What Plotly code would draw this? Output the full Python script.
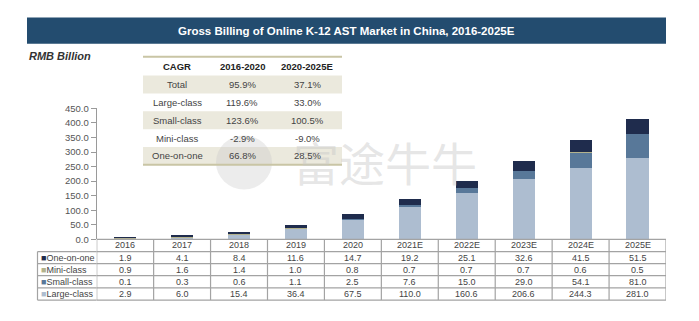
import plotly.graph_objects as go

W, H = 699, 321

years = ["2016", "2017", "2018", "2019", "2020", "2021E", "2022E", "2023E", "2024E", "2025E"]
one_on_one = [1.9, 4.1, 8.4, 11.6, 14.7, 19.2, 25.1, 32.6, 41.5, 51.5]
mini_class = [0.9, 1.6, 1.4, 1.0, 0.8, 0.7, 0.7, 0.7, 0.6, 0.5]
small_class = [0.1, 0.3, 0.6, 1.1, 2.5, 7.6, 15.0, 29.0, 54.1, 81.0]
large_class = [2.9, 6.0, 15.4, 36.4, 67.5, 110.0, 160.6, 206.6, 244.3, 281.0]

cagr_header = ["CAGR", "2016-2020", "2020-2025E"]
cagr_rows = ["Total", "Large-class", "Small-class", "Mini-class", "One-on-one"]
cagr_1620 = ["95.9%", "119.6%", "123.6%", "-2.9%", "66.8%"]
cagr_2025 = ["37.1%", "33.0%", "100.5%", "-9.0%", "28.5%"]

title = "Gross Billing of Online K-12 AST Market in China, 2016-2025E"
unit = "RMB Billion"
watermark = "富途牛牛"

C_LARGE = "#adbdd0"
C_SMALL = "#587899"
C_MINI = "#b3b28c"
C_ONE = "#1f2c4d"
FONT = "Arial, Liberation Sans, sans-serif"


def px(x):
    return x / W


def py(y):
    return 1 - y / H


X0, X1 = 96.7, 666.0
Y0, Y450 = 241.6, 106.0

fig = go.Figure()
series = [("Large-class", large_class, C_LARGE),
          ("Small-class", small_class, C_SMALL),
          ("Mini-class", mini_class, C_MINI),
          ("One-on-one", one_on_one, C_ONE)]
for name, vals, col in series:
    fig.add_trace(go.Bar(x=years, y=vals, name=name, marker=dict(color=col, line=dict(width=0))))

fig.update_layout(
    width=W, height=H, margin=dict(l=0, r=0, t=0, b=0),
    paper_bgcolor="white", plot_bgcolor="white",
    barmode="stack", bargap=0.61, showlegend=False,
    font=dict(family=FONT, color="#555555", size=9),
    xaxis=dict(domain=[px(X0), px(X1)], range=[-0.5, 9.5], showticklabels=False,
               showline=False, showgrid=False, zeroline=False, fixedrange=True),
    yaxis=dict(domain=[py(Y0), py(Y450)], range=[0, 450], dtick=50, tickformat=".1f",
               showline=True, linecolor="#9a9a9a", linewidth=1, ticks="outside",
               ticklen=5, tickcolor="#9a9a9a", showgrid=False, zeroline=False,
               tickfont=dict(size=9.5, color="#555555"), fixedrange=True),
)

shapes = []
ann = []

# Watermark (drawn first, faint)
shapes.append(dict(type="circle", xref="paper", yref="paper", x0=px(216), x1=px(272),
                   y0=py(190), y1=py(134), fillcolor="rgba(200,200,200,0.35)", line=dict(width=0)))
ann.append(dict(text=watermark, xref="paper", yref="paper", x=px(385), y=py(161), showarrow=False,
                font=dict(size=46, color="rgba(200,200,200,0.45)", family="Noto Sans CJK SC"),
                xanchor="center", yanchor="middle"))

# Title banner
shapes.append(dict(type="rect", xref="paper", yref="paper", x0=px(27), x1=px(666),
                   y0=py(39), y1=py(12), fillcolor="#234c6f", line=dict(width=0), layer="below"))
ann.append(dict(text="<b>" + title + "</b>", xref="paper", yref="paper", x=px(346), y=py(25.5),
                showarrow=False, font=dict(size=11.5, color="white", family=FONT),
                xanchor="center", yanchor="middle"))
ann.append(dict(text="<b><i>" + unit + "</i></b>", xref="paper", yref="paper", x=px(27), y=py(52),
                showarrow=False, font=dict(size=11, color="#333333", family=FONT),
                xanchor="left", yanchor="middle"))

# CAGR table
TX0, TX1 = 143, 342
col_cx = [177, 242, 307]
row_edges = [52.5, 72, 90.5, 109, 127.5, 146, 164.5]
for i in range(len(cagr_rows)):
    if i % 2 == 0:
        shapes.append(dict(type="rect", xref="paper", yref="paper", x0=px(TX0), x1=px(TX1),
                           y0=py(row_edges[i + 2]), y1=py(row_edges[i + 1]),
                           fillcolor="#ebe9dd", line=dict(width=0), layer="below"))
for yy in (row_edges[0], row_edges[-1]):
    shapes.append(dict(type="line", xref="paper", yref="paper", x0=px(TX0), x1=px(TX1),
                       y0=py(yy), y1=py(yy), line=dict(color="#c9c5a5", width=2)))
for j, h in enumerate(cagr_header):
    ann.append(dict(text="<b>" + h + "</b>", xref="paper", yref="paper", x=px(col_cx[j]),
                    y=py((row_edges[0] + row_edges[1]) / 2), showarrow=False,
                    font=dict(size=9.5, color="#222222", family=FONT), xanchor="center", yanchor="middle"))
for i, r in enumerate(cagr_rows):
    yc = py((row_edges[i + 1] + row_edges[i + 2]) / 2)
    for j, t in enumerate([r, cagr_1620[i], cagr_2025[i]]):
        ann.append(dict(text=t, xref="paper", yref="paper", x=px(col_cx[j]), y=yc, showarrow=False,
                        font=dict(size=9.5, color="#444444", family=FONT), xanchor="center", yanchor="middle"))

# Data table under the chart
LX = 37.5
trow = [241.6, 254.3, 266.7, 279.2, 291.8, 304.5]
GRID = dict(color="#a3a3a3", width=1.2)
shapes.append(dict(type="line", xref="x", yref="paper", x0=-0.5, x1=9.5, y0=py(trow[0]), y1=py(trow[0]), line=GRID))
for k in range(1, len(trow)):
    shapes.append(dict(type="line", xref="x", yref="paper", x0=-0.5, x1=9.5,
                       y0=py(trow[k]), y1=py(trow[k]), line=GRID))
    shapes.append(dict(type="line", xref="paper", yref="paper", x0=px(LX), x1=px(X0),
                       y0=py(trow[k]), y1=py(trow[k]), line=GRID))
for i in range(len(years) + 1):
    shapes.append(dict(type="line", xref="x", yref="paper", x0=i - 0.5, x1=i - 0.5,
                       y0=py(trow[-1]), y1=py(trow[0]), line=GRID))
shapes.append(dict(type="line", xref="paper", yref="paper", x0=px(LX), x1=px(LX),
                   y0=py(trow[-1]), y1=py(trow[1]), line=GRID))

table_rows = [("One-on-one", one_on_one, C_ONE), ("Mini-class", mini_class, C_MINI),
              ("Small-class", small_class, C_SMALL), ("Large-class", large_class, C_LARGE)]
TF = dict(size=9, color="#444444", family=FONT)
for i, y in enumerate(years):
    ann.append(dict(text=y, xref="x", yref="paper", x=i, y=py((trow[0] + trow[1]) / 2),
                    showarrow=False, font=TF, xanchor="center", yanchor="middle"))
for k, (name, vals, col) in enumerate(table_rows):
    yc = py((trow[k + 1] + trow[k + 2]) / 2)
    ann.append(dict(text='<span style="color:%s">■</span>%s' % (col, name), xref="paper", yref="paper",
                    x=px(LX + 1), y=yc, showarrow=False, font=TF, xanchor="left", yanchor="middle"))
    for i, v in enumerate(vals):
        ann.append(dict(text="%.1f" % v, xref="x", yref="paper", x=i, y=yc, showarrow=False,
                        font=TF, xanchor="center", yanchor="middle"))

fig.update_layout(shapes=shapes, annotations=ann)
fig.write_html("out.html")
